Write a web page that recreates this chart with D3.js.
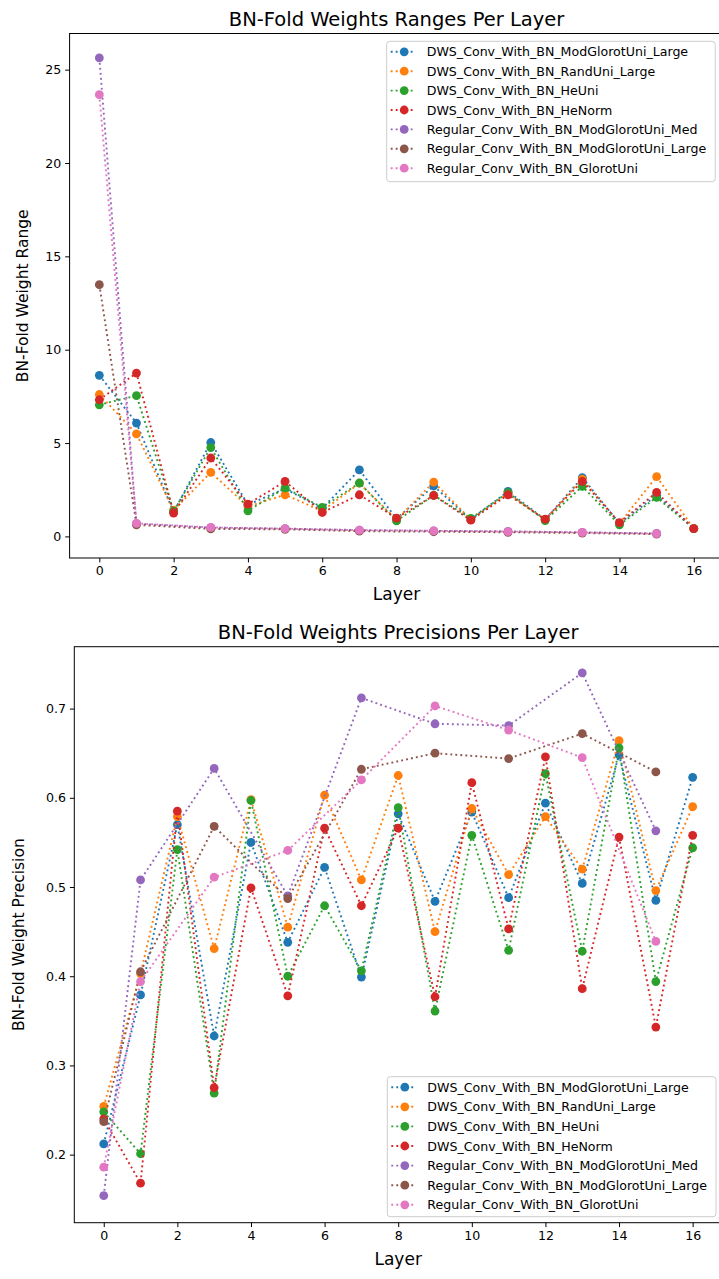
<!DOCTYPE html>
<html>
<head>
<meta charset="utf-8">
<script src="https://cdnjs.cloudflare.com/ajax/libs/d3/7.8.5/d3.min.js"></script>
<style>
    body { margin: 0; background: #fff; }
    svg text { font-family: 'DejaVu Sans', sans-serif; fill: #000; }
</style>
</head>
<body>
<div id="chart"></div>
<script>
// Series names and colours (matplotlib tab10)
const seriesNames = [
    'DWS_Conv_With_BN_ModGlorotUni_Large',
    'DWS_Conv_With_BN_RandUni_Large',
    'DWS_Conv_With_BN_HeUni',
    'DWS_Conv_With_BN_HeNorm',
    'Regular_Conv_With_BN_ModGlorotUni_Med',
    'Regular_Conv_With_BN_ModGlorotUni_Large',
    'Regular_Conv_With_BN_GlorotUni'
];
const seriesColors = ['#1f77b4', '#ff7f0e', '#2ca02c', '#d62728', '#9467bd', '#8c564b', '#e377c2'];

// Layers: DWS nets have all 17, regular nets skip the depthwise ones
const dwsLayers = [0, 1, 2, 3, 4, 5, 6, 7, 8, 9, 10, 11, 12, 13, 14, 15, 16];
const regLayers = [0, 1, 3, 5, 7, 9, 11, 13, 15];
const xTicks = [0, 2, 4, 6, 8, 10, 12, 14, 16];

// Top chart: weight ranges
const rangeBlue   = [8.63, 6.07, 1.30, 5.03, 1.70, 2.55, 1.50, 3.56, 0.95, 2.70, 0.90, 2.41, 0.90, 3.15, 0.70, 2.20, 0.42];
const rangeOrange = [7.60, 5.49, 1.40, 3.43, 1.60, 2.23, 1.35, 2.85, 0.90, 2.91, 0.90, 2.30, 0.90, 3.07, 0.70, 3.20, 0.42];
const rangeGreen  = [7.05, 7.54, 1.35, 4.76, 1.37, 2.60, 1.55, 2.86, 0.83, 2.20, 0.96, 2.35, 0.85, 2.68, 0.62, 2.09, 0.42];
const rangeRed    = [7.32, 8.75, 1.25, 4.20, 1.73, 2.95, 1.28, 2.23, 0.98, 2.19, 0.87, 2.23, 0.92, 2.95, 0.74, 2.36, 0.42];
const rangePurple = [25.63, 0.68, 0.47, 0.42, 0.34, 0.30, 0.27, 0.22, 0.16];
const rangeBrown  = [13.48, 0.62, 0.40, 0.38, 0.28, 0.25, 0.22, 0.18, 0.12];
const rangePink   = [23.66, 0.70, 0.48, 0.41, 0.33, 0.30, 0.26, 0.21, 0.15];
const rangeYTicks = [0, 5, 10, 15, 20, 25];

// Bottom chart: weight precisions
const precBlue   = [0.212, 0.379, 0.570, 0.333, 0.550, 0.438, 0.522, 0.399, 0.582, 0.484, 0.584, 0.488, 0.594, 0.504, 0.648, 0.485, 0.623];
const precOrange = [0.254, 0.403, 0.579, 0.431, 0.598, 0.455, 0.603, 0.508, 0.625, 0.450, 0.588, 0.514, 0.579, 0.520, 0.664, 0.496, 0.590];
const precGreen  = [0.248, 0.201, 0.542, 0.269, 0.597, 0.400, 0.479, 0.406, 0.589, 0.361, 0.558, 0.429, 0.627, 0.428, 0.656, 0.394, 0.544];
const precRed    = [0.240, 0.168, 0.585, 0.275, 0.499, 0.378, 0.566, 0.479, 0.566, 0.377, 0.617, 0.453, 0.646, 0.386, 0.556, 0.343, 0.558];
const precPurple = [0.154, 0.508, 0.633, 0.490, 0.712, 0.683, 0.681, 0.740, 0.563];
const precBrown  = [0.237, 0.405, 0.568, 0.487, 0.632, 0.650, 0.644, 0.672, 0.629];
const precPink   = [0.186, 0.394, 0.511, 0.541, 0.620, 0.703, 0.676, 0.645, 0.439];
const precYTicks = [0.2, 0.3, 0.4, 0.5, 0.6, 0.7];

const CONFIG = {
    width: 719,
    height: 1279,
    markerRadius: 4.4,
    lineWidth: 1.9,
    dash: '1.9,3.1'
};

const svg = d3.select('#chart')
    .append('svg')
    .attr('width', CONFIG.width)
    .attr('height', CONFIG.height);

function buildSeries(values) {
    return values.map((vals, i) => {
        const layers = i < 4 ? dwsLayers : regLayers;
        return {
            name: seriesNames[i],
            color: seriesColors[i],
            points: vals.map((v, j) => ({x: layers[j], y: v}))
        };
    });
}

function drawPanel(opts) {
    const {box, yDomain, yTicks, yFormat, series, title, yLabel, yLabelOffset, legend} = opts;

    const x = d3.scaleLinear().domain([-0.8, 16.8]).range([box.left, box.right]);
    const y = d3.scaleLinear().domain(yDomain).range([box.bottom, box.top]);

    const g = svg.append('g');

    // Lines and markers, one series at a time so later ones sit on top
    const line = d3.line().x(d => x(d.x)).y(d => y(d.y));
    series.forEach(s => {
        const sg = g.append('g');
        sg.append('path')
            .datum(s.points)
            .attr('d', line)
            .attr('fill', 'none')
            .attr('stroke', s.color)
            .attr('stroke-width', CONFIG.lineWidth)
            .attr('stroke-dasharray', CONFIG.dash);
        sg.selectAll('circle')
            .data(s.points)
            .enter().append('circle')
            .attr('cx', d => x(d.x))
            .attr('cy', d => y(d.y))
            .attr('r', CONFIG.markerRadius)
            .attr('fill', s.color);
    });

    // Axes
    const xAxis = g.append('g')
        .attr('transform', `translate(0,${box.bottom})`)
        .call(d3.axisBottom(x).tickValues(xTicks).tickSize(4.4).tickPadding(4));
    const yAxis = g.append('g')
        .attr('transform', `translate(${box.left},0)`)
        .call(d3.axisLeft(y).tickValues(yTicks).tickFormat(yFormat).tickSize(4.4).tickPadding(4));
    [xAxis, yAxis].forEach(a => {
        a.select('.domain').remove();
        a.selectAll('text').style('font-size', '12.6px');
        a.selectAll('line').attr('stroke', '#000').attr('stroke-width', 1);
    });

    // Frame
    g.append('rect')
        .attr('x', box.left)
        .attr('y', box.top)
        .attr('width', box.right - box.left)
        .attr('height', box.bottom - box.top)
        .attr('fill', 'none')
        .attr('stroke', '#000')
        .attr('stroke-width', 1);

    // Title and labels
    const cx = (box.left + box.right) / 2;
    g.append('text')
        .attr('x', cx)
        .attr('y', box.top - 8)
        .attr('text-anchor', 'middle')
        .style('font-size', '19.5px')
        .text(title);
    g.append('text')
        .attr('x', cx)
        .attr('y', box.bottom + 42)
        .attr('text-anchor', 'middle')
        .style('font-size', '17px')
        .text('Layer');
    g.append('text')
        .attr('transform', `translate(${box.left - yLabelOffset},${(box.top + box.bottom) / 2}) rotate(-90)`)
        .attr('text-anchor', 'middle')
        .style('font-size', '15.5px')
        .text(yLabel);

    // Legend
    const lg = g.append('g').attr('transform', `translate(${legend.x},${legend.y})`);
    lg.append('rect')
        .attr('width', legend.w)
        .attr('height', legend.h)
        .attr('rx', 3)
        .attr('fill', 'rgba(255,255,255,0.8)')
        .attr('stroke', '#cccccc')
        .attr('stroke-width', 1);
    series.forEach((s, i) => {
        const ry = 10.5 + i * legend.step;
        lg.append('line')
            .attr('x1', 4).attr('x2', 29)
            .attr('y1', ry).attr('y2', ry)
            .attr('stroke', s.color)
            .attr('stroke-width', CONFIG.lineWidth)
            .attr('stroke-dasharray', CONFIG.dash);
        lg.append('circle')
            .attr('cx', 17.5)
            .attr('cy', ry)
            .attr('r', CONFIG.markerRadius)
            .attr('fill', s.color);
        lg.append('text')
            .attr('x', 40)
            .attr('y', ry)
            .attr('dy', '0.36em')
            .style('font-size', '12.6px')
            .text(s.name);
    });
}

drawPanel({
    box: {left: 69.6, right: 723.5, top: 33.5, bottom: 558},
    yDomain: [-1.157, 26.937],
    yTicks: rangeYTicks,
    yFormat: d3.format('d'),
    series: buildSeries([rangeBlue, rangeOrange, rangeGreen, rangeRed, rangePurple, rangeBrown, rangePink]),
    title: 'BN-Fold Weights Ranges Per Layer',
    yLabel: 'BN-Fold Weight Range',
    yLabelOffset: 42,
    legend: {x: 386.7, y: 41.3, w: 328.5, h: 140.4, step: 19.4}
});

drawPanel({
    box: {left: 74.3, right: 722.1, top: 646.7, bottom: 1222.7},
    yDomain: [0.1237, 0.7694],
    yTicks: precYTicks,
    yFormat: d3.format('.1f'),
    series: buildSeries([precBlue, precOrange, precGreen, precRed, precPurple, precBrown, precPink]),
    title: 'BN-Fold Weights Precisions Per Layer',
    yLabel: 'BN-Fold Weight Precision',
    yLabelOffset: 50,
    legend: {x: 387.3, y: 1076.7, w: 328.7, h: 140, step: 19.6}
});
</script>
</body>
</html>
